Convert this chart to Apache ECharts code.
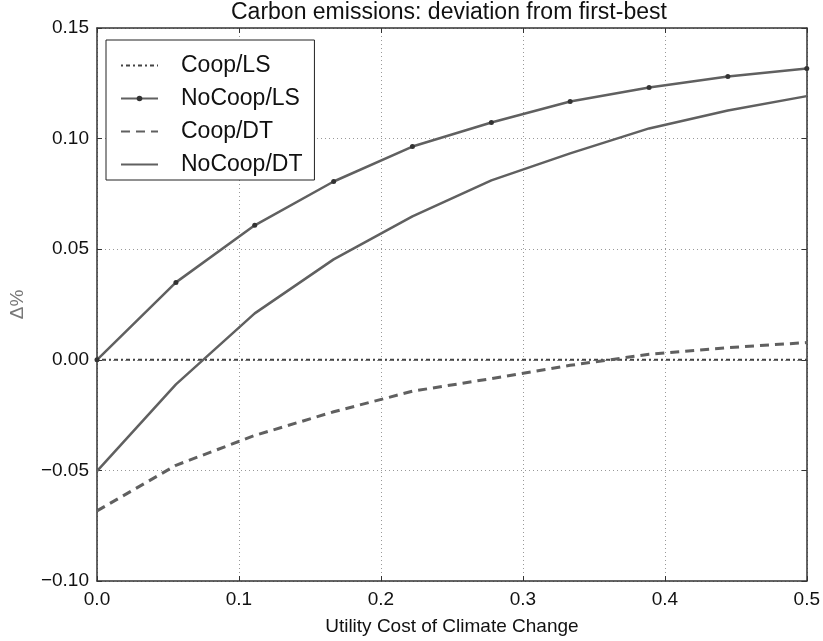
<!DOCTYPE html>
<html>
<head>
<meta charset="utf-8">
<script src="https://cdn.jsdelivr.net/npm/echarts@6/dist/echarts.min.js"></script>
<style>html,body{margin:0;padding:0;background:#fff}#c{width:823px;height:641px}</style>
</head>
<body>
<div id="c"></div>
<script>
var xValues = [0, 0.0556, 0.1111, 0.1667, 0.2222, 0.2778, 0.3333, 0.3889, 0.4444, 0.5];
var coopLS = [0, 0, 0, 0, 0, 0, 0, 0, 0, 0];
var noCoopLS = [0.000, 0.0350, 0.0608, 0.0806, 0.0964, 0.1073, 0.1168, 0.1231, 0.1281, 0.1317];
var coopDT = [-0.0683, -0.0477, -0.0342, -0.0235, -0.0142, -0.0085, -0.0025, 0.0025, 0.0055, 0.0078];
var noCoopDT = [-0.0503, -0.0111, 0.0210, 0.0454, 0.0648, 0.0811, 0.0933, 0.1046, 0.1127, 0.1192];
var seriesNames = ['Coop/LS', 'NoCoop/LS', 'Coop/DT', 'NoCoop/DT'];
var xTicks = [0, 0.1, 0.2, 0.3, 0.4, 0.5];
var yTicks = [-0.10, -0.05, 0.00, 0.05, 0.10, 0.15];
var titleText = 'Carbon emissions: deviation from first-best';
var xName = 'Utility Cost of Climate Change';
var yName = 'Δ%';

function pairs(ys){ return xValues.map(function(x,i){ return [x, ys[i]]; }); }
function fmtY(v){ var s = Math.abs(v).toFixed(2); return (v < -1e-9 ? '\u2212' : '') + s; }

var font = 'Liberation Sans, Arial, Helvetica, sans-serif';
var lineColor = '#606060';
var chart = echarts.init(document.getElementById('c'), null, {renderer: 'canvas'});

var axisCommon = {
  axisLine: {show: true, onZero: false, lineStyle: {color: '#333', width: 1.5}},
  axisTick: {show: true, inside: true, length: 5, lineStyle: {color: '#333', width: 1}},
  splitLine: {show: false}
};

chart.setOption({
  animation: false,
  backgroundColor: '#fff',
  title: {
    text: titleText, left: 231, top: 1, padding: 0,
    textStyle: {fontFamily: font, fontSize: 23, fontWeight: 'normal', color: '#111'}
  },
  grid: {left: 96, right: 14, top: 28, bottom: 59, containLabel: false},
  legend: {
    data: seriesNames.map(function(n, i){
      return i === 1 ? {name: n} : {name: n, itemStyle: {opacity: 0}};
    }),
    orient: 'vertical', left: 106, top: 40,
    padding: [14, 12, 4, 14], itemGap: 10, itemWidth: 37, itemHeight: 7,
    borderColor: '#222', borderWidth: 1, backgroundColor: '#fff',
    textStyle: {fontFamily: font, fontSize: 23, color: '#111', padding: [0, 0, 0, 18]}
  },
  xAxis: [
    Object.assign({
      type: 'value', min: 0, max: 0.5, interval: 0.1, position: 'bottom',
      name: xName, nameLocation: 'middle', nameGap: 36,
      nameTextStyle: {fontFamily: font, fontSize: 19, color: '#111'},
      axisLabel: {fontFamily: font, fontSize: 19, color: '#111', margin: 9,
        formatter: function(v){ return v.toFixed(1); }},
    }, axisCommon, {splitLine: {show: true, lineStyle: {color: '#999', type: [1, 3], width: 1}}}),
    Object.assign({
      type: 'value', min: 0, max: 0.5, interval: 0.1, position: 'top',
      axisLabel: {show: false}
    }, axisCommon)
  ],
  yAxis: [
    Object.assign({
      type: 'value', min: -0.10, max: 0.15, interval: 0.05, position: 'left',
      name: yName, nameLocation: 'middle', nameGap: 70, nameRotate: 90,
      nameTextStyle: {fontFamily: font, fontSize: 19, color: '#777'},
      axisLabel: {fontFamily: font, fontSize: 19, color: '#111', margin: 8, formatter: fmtY}
    }, axisCommon, {splitLine: {show: true, lineStyle: {color: '#999', type: [1, 3], width: 1}}}),
    Object.assign({
      type: 'value', min: -0.10, max: 0.15, interval: 0.05, position: 'right',
      axisLabel: {show: false}
    }, axisCommon)
  ],
  series: [
    {name: seriesNames[0], type: 'line', data: pairs(coopLS), showSymbol: false, symbol: 'none',
     lineStyle: {color: '#444', width: 2, type: [2, 3, 4, 3]}, itemStyle: {color: '#444'}, z: 3},
    {name: seriesNames[1], type: 'line', data: pairs(noCoopLS), symbol: 'circle', symbolSize: 5,
     lineStyle: {color: lineColor, width: 2.5}, itemStyle: {color: '#333'}, z: 4},
    {name: seriesNames[2], type: 'line', data: pairs(coopDT), showSymbol: false, symbol: 'none',
     lineStyle: {color: lineColor, width: 3, type: [9, 6]}, itemStyle: {color: lineColor}, z: 4},
    {name: seriesNames[3], type: 'line', data: pairs(noCoopDT), showSymbol: false, symbol: 'none',
     lineStyle: {color: lineColor, width: 2.5}, itemStyle: {color: lineColor}, z: 4}
  ]
});
</script>
</body>
</html>
